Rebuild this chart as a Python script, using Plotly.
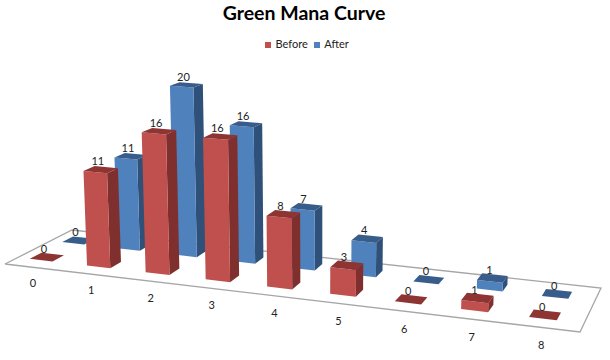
import numpy as np
import plotly.graph_objects as go

categories = ["0", "1", "2", "3", "4", "5", "6", "7", "8"]
before = [0, 11, 16, 16, 8, 3, 0, 1, 0]
after = [0, 11, 20, 16, 7, 4, 0, 1, 0]
series_names = ["Before", "After"]

FIG_W, FIG_H = 610, 360

# --- camera: a projective map from chart space (category, row, value) to the page axes
FLOOR_MODEL = [(0, 0), (9, 0), (9, 2), (0, 2)]
FLOOR_PAGE = [(5, 264), (580, 332), (601, 288), (72, 230)]
VANISH = (320.0, 6500.0)
PX_PER_16 = 142.0   # front-edge height of a 16 bar, third category


def homography(src, dst):
    A, b = [], []
    for (x, y), (u, v) in zip(src, dst):
        A.append([x, y, 1, 0, 0, 0, -u * x, -u * y]); b.append(u)
        A.append([0, 0, 0, x, y, 1, -v * x, -v * y]); b.append(v)
    h = np.linalg.solve(np.array(A, float), np.array(b, float))
    return np.append(h, 1).reshape(3, 3)


H = homography(FLOOR_MODEL, FLOOR_PAGE)
_ref = H @ np.array([3.3, 0.33, 1])
_w, _v = _ref[2], _ref[1] / _ref[2]
K = -PX_PER_16 * _w / (VANISH[1] - _v + PX_PER_16) / 16
Z_COL = K * np.array([VANISH[0], VANISH[1], 1.0])


def proj(x, y, z=0.0):
    p = H @ np.array([x, y, 1.0]) + z * Z_COL
    return p[0] / p[2], p[1] / p[2]


BAR = 0.40
DEPTH = 0.34
CENTER = 0.41
styles = {
    "After": dict(front="#4F81BD", side="#2F5078", top="#385D8A", row=1.5, values=after),
    "Before": dict(front="#C0504D", side="#7F302E", top="#8E3432", row=0.53, values=before),
}

fig = go.Figure()


def poly(points, color, line=None, width=0):
    pts = [proj(*p) for p in points]
    pts.append(pts[0])
    fig.add_trace(go.Scatter(x=[p[0] for p in pts], y=[p[1] for p in pts], mode="lines", fill="toself",
                             fillcolor=color, line=dict(color=line or color, width=width),
                             hoverinfo="skip", showlegend=False))


poly([(0, 0), (9, 0), (9, 2), (0, 2)], "white", "#A6A6A6", 1.3)

label_x, label_y, label_t = [], [], []
for name in series_names[::-1]:
    s = styles[name]
    for c, v in enumerate(s["values"]):
        x0, x1 = c + CENTER - BAR / 2, c + CENTER + BAR / 2
        y0, y1 = s["row"] - DEPTH / 2, s["row"] + DEPTH / 2
        if v > 0:
            poly([(x1, y0, 0), (x1, y1, 0), (x1, y1, v), (x1, y0, v)], s["side"])
            poly([(x0, y0, 0), (x1, y0, 0), (x1, y0, v), (x0, y0, v)], s["front"])
        poly([(x0, y0, v), (x1, y0, v), (x1, y1, v), (x0, y1, v)], s["top"])
        lx, ly = proj(c + CENTER, s["row"], v)
        label_x.append(lx - 3); label_y.append(ly - 7); label_t.append(str(v))

fig.add_trace(go.Scatter(x=label_x, y=label_y, mode="text", text=label_t,
                         textfont=dict(family="Lato", size=11, color="#222222"),
                         hoverinfo="skip", showlegend=False))

cat_pts = [proj(0.93 + c * 0.9575, -0.72) for c in range(len(categories))]
fig.add_trace(go.Scatter(x=[p[0] for p in cat_pts], y=[p[1] for p in cat_pts], mode="text", text=categories,
                         textfont=dict(family="Lato", size=11, color="#222222"),
                         hoverinfo="skip", showlegend=False))

# compact key, as in the reference
for name, kx in zip(series_names, [268, 317]):
    fig.add_trace(go.Scatter(x=[kx], y=[45], mode="markers+text", text=[" " + name], textposition="middle right",
                             marker=dict(symbol="square", size=6, color=styles[name]["front"]),
                             textfont=dict(family="Lato", size=11, color="#222222"),
                             name=name, hoverinfo="skip", showlegend=False))

fig.update_layout(
    width=FIG_W, height=FIG_H, margin=dict(l=0, r=0, t=0, b=0), paper_bgcolor="white", plot_bgcolor="white",
    title=dict(text="<b>Green Mana Curve</b>", x=304 / FIG_W, y=1 - 13 / FIG_H,
               xanchor="center", yanchor="middle",
               font=dict(family="Lato", size=19.5, color="black")),
    showlegend=False,
    xaxis=dict(visible=False, range=[0, FIG_W], fixedrange=True),
    yaxis=dict(visible=False, range=[FIG_H, 0], fixedrange=True),
)
fig.write_html("out.html", config={"displayModeBar": False},
               post_script="document.body.style.margin='0';document.documentElement.style.overflow='hidden';")
